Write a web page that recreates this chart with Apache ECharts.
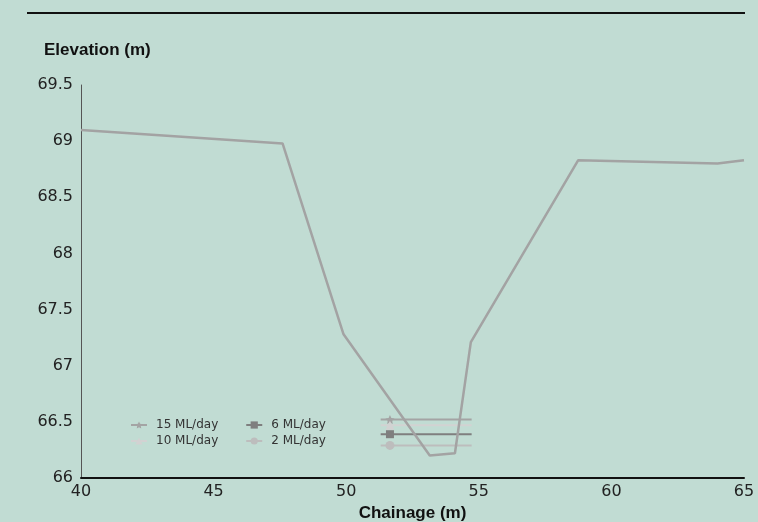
<!DOCTYPE html>
<html>
<head>
<meta charset="utf-8">
<script src="https://cdn.jsdelivr.net/npm/echarts@6/dist/echarts.min.js"></script>
<style>
  html, body { margin: 0; padding: 0; background: #c1dcd3; }
  #chart { width: 758px; height: 522px; }
</style>
</head>
<body>
<div id="chart"></div>
<script>
// ground profile (chainage m, elevation m)
var profileChainage = [40, 47.6, 49.9, 53.15, 54.1, 54.7, 58.75, 64, 65];
var profileElevation = [69.1, 68.98, 67.28, 66.2, 66.22, 67.21, 68.83, 68.8, 68.83];

// water levels per flow
var flowNames = ['15 ML/day', '10 ML/day', '6 ML/day', '2 ML/day'];
var flowLevels = [66.52, 66.47, 66.39, 66.29];
var flowStart = 51.3;
var flowMarker = 51.65;
var flowEnd = 54.73;

var flowColors = ['#a4a4a4', '#d2d2d2', '#7f7f7f', '#bdbdbd'];
var flowSymbols = ['path://M0,-10 L2.9,-4 L9.5,-3.1 L4.8,1.5 L5.9,8.1 L0,5 L-5.9,8.1 L-4.8,1.5 L-9.5,-3.1 L-2.9,-4 Z', 'triangle', 'rect', 'circle'];

var chart = echarts.init(document.getElementById('chart'));

var series = [{
  name: 'Profile',
  type: 'line',
  data: profileChainage.map(function (c, i) { return [c, profileElevation[i]]; }),
  showSymbol: false,
  lineStyle: { color: '#a3a3a3', width: 2.5 },
  z: 3
}];

flowNames.forEach(function (name, i) {
  series.push({
    name: name,
    type: 'line',
    data: [
      { value: [flowStart, flowLevels[i]], symbol: 'none' },
      { value: [flowMarker, flowLevels[i]] },
      { value: [flowEnd, flowLevels[i]], symbol: 'none' }
    ],
    symbol: flowSymbols[i],
    symbolSize: i === 2 ? 8 : 9,
    itemStyle: { color: flowColors[i] },
    lineStyle: { color: flowColors[i], width: 2 },
    z: 2
  });
});

var legendCommon = {
  orient: 'horizontal',
  padding: 0,
  itemWidth: 16,
  itemHeight: 9,
  itemGap: 27,
  textStyle: { fontSize: 12, color: '#333', fontFamily: 'DejaVu Sans, sans-serif', padding: [0, 0, 0, 4] }
};

var labelFont = 'DejaVu Sans, sans-serif';
var titleFont = 'Liberation Sans, Arial, sans-serif';

chart.setOption({
  backgroundColor: '#c1dcd3',
  animation: false,
  grid: { left: 81, right: 14, top: 85, bottom: 44, outerBoundsMode: 'none' },
  legend: [
    Object.assign({ left: 130, top: 419, data: ['15 ML/day', '6 ML/day'] }, legendCommon),
    Object.assign({ left: 130, top: 435, data: ['10 ML/day', '2 ML/day'] }, legendCommon)
  ],
  xAxis: {
    type: 'value',
    min: 40,
    max: 65,
    interval: 5,
    name: 'Chainage (m)',
    nameLocation: 'middle',
    nameGap: 26,
    nameTextStyle: { fontSize: 17, fontWeight: 'bold', color: '#111', fontFamily: titleFont },
    axisLine: { lineStyle: { color: '#111', width: 2 } },
    axisTick: { show: false },
    splitLine: { show: false },
    axisLabel: { fontSize: 16, color: '#222', margin: 6, fontFamily: labelFont }
  },
  yAxis: {
    type: 'value',
    min: 66,
    max: 69.5,
    interval: 0.5,
    axisLine: { show: true, lineStyle: { color: '#555', width: 1 } },
    axisTick: { show: false },
    splitLine: { show: false },
    axisLabel: { fontSize: 16, color: '#222', margin: 8, fontFamily: labelFont }
  },
  graphic: [
    {
      type: 'line',
      shape: { x1: 27, y1: 13, x2: 745, y2: 13 },
      style: { stroke: '#111', lineWidth: 2 }
    },
    {
      type: 'text',
      left: 44,
      top: 42,
      style: {
        text: 'Elevation (m)',
        fontSize: 17,
        fontWeight: 'bold',
        fill: '#111',
        fontFamily: titleFont
      }
    }
  ],
  series: series
});
</script>
</body>
</html>
